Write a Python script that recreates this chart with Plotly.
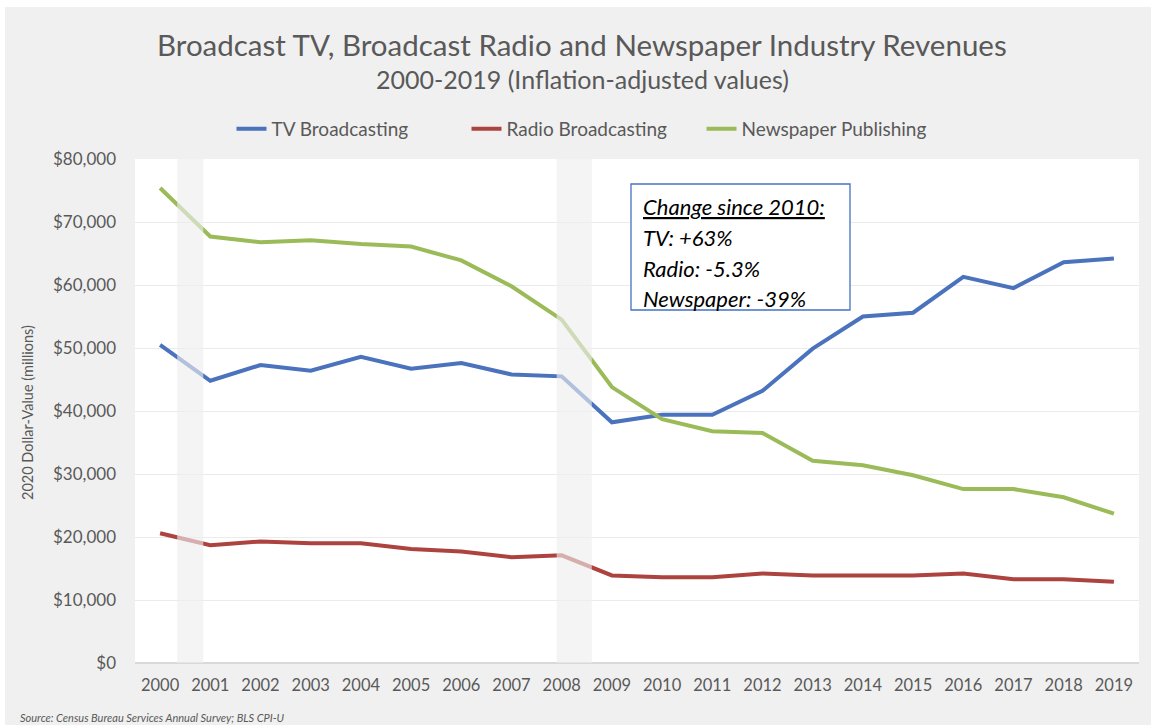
import plotly.graph_objects as go

years = list(range(2000, 2020))
tv = [50500, 44800, 47300, 46400, 48600, 46700, 47600, 45800, 45500, 38200,
      39400, 39400, 43200, 49900, 55000, 55600, 61300, 59500, 63600, 64200]
radio = [20600, 18700, 19300, 19000, 19000, 18100, 17700, 16800, 17100, 13900,
         13600, 13600, 14200, 13900, 13900, 13900, 14200, 13300, 13300, 12900]
news = [75400, 67700, 66800, 67100, 66500, 66100, 63900, 59800, 54500, 43800,
        38700, 36800, 36500, 32100, 31400, 29800, 27600, 27600, 26300, 23700]
series_names = ["TV Broadcasting", "Radio Broadcasting", "Newspaper Publishing"]
series_colors = ["#4a72bd", "#ad433e", "#9bbb59"]
recessions = [(2000.34, 2000.86), (2007.9, 2008.6)]
box_lines = ["<u>Change since 2010:</u>", "TV: +63%", "Radio: -5.3%", "Newspaper: -39%"]

FONT = "Lato"
GRAY = "#595959"
W, H = 1151, 725
L, R, T, B = 135, 12, 159, 62
PW, PH = W - L - R, H - T - B


def px(x):
    return (x - L) / PW


def py(y):
    return (H - B - y) / PH


fig = go.Figure()
for name, vals, col in zip(series_names, [tv, radio, news], series_colors):
    fig.add_trace(go.Scatter(x=years, y=vals, name=name, mode="lines",
                             line=dict(color=col, width=4)))

shapes = []
for x0, x1 in recessions:
    shapes.append(dict(type="rect", xref="x", yref="paper", x0=x0, x1=x1, y0=0, y1=1,
                       fillcolor="#eeeeee", opacity=0.63, line=dict(width=0), layer="above"))
# annotation box
shapes.append(dict(type="rect", xref="paper", yref="paper", x0=px(631), x1=px(850),
                   y0=py(310), y1=py(184), fillcolor="white",
                   line=dict(color="#4472c4", width=1.3), layer="above"))
# white outer strips
shapes.append(dict(type="rect", xref="paper", yref="paper", x0=px(0), x1=px(W),
                   y0=py(7), y1=py(-2), fillcolor="white", line=dict(width=0), layer="below"))
shapes.append(dict(type="rect", xref="paper", yref="paper", x0=px(-2), x1=px(5),
                   y0=py(H + 2), y1=py(0), fillcolor="white", line=dict(width=0), layer="below"))

annotations = [
    dict(text="Broadcast TV, Broadcast Radio and Newspaper Industry Revenues",
         xref="paper", yref="paper", x=px(582), y=py(45), showarrow=False,
         xanchor="center", yanchor="middle", font=dict(family=FONT, size=29.5, color=GRAY)),
    dict(text="2000-2019 (Inflation-adjusted values)",
         xref="paper", yref="paper", x=px(582), y=py(79), showarrow=False,
         xanchor="center", yanchor="middle", font=dict(family=FONT, size=25, color=GRAY)),
    dict(text="2020 Dollar-Value (millions)", textangle=-90,
         xref="paper", yref="paper", x=px(27), y=py(413), showarrow=False,
         xanchor="center", yanchor="middle", font=dict(family=FONT, size=14.5, color=GRAY)),
    dict(text="<i>Source: Census Bureau Services Annual Survey; BLS CPI-U</i>",
         xref="paper", yref="paper", x=px(18), y=py(717), showarrow=False,
         xanchor="left", yanchor="middle", font=dict(family=FONT, size=11, color=GRAY)),
]
for i, (t, yy) in enumerate(zip(box_lines, [206, 237, 268, 298])):
    annotations.append(dict(text="<i>" + t + "</i>", xref="paper", yref="paper",
                            x=px(641), y=py(yy), showarrow=False, xanchor="left",
                            yanchor="middle", font=dict(family=FONT, size=22, color="black")))

fig.update_layout(
    width=W, height=H,
    margin=dict(l=L, r=R, t=T, b=B),
    paper_bgcolor="#f0f0f0", plot_bgcolor="white",
    font=dict(family=FONT, color=GRAY),
    showlegend=True,
    legend=dict(orientation="h", x=px(584), xanchor="center", y=py(129), yanchor="middle",
                font=dict(family=FONT, size=19, color=GRAY), bgcolor="rgba(0,0,0,0)",
                itemwidth=30, tracegroupgap=0, entrywidth=190, entrywidthmode="pixels"),
    shapes=shapes, annotations=annotations,
    xaxis=dict(range=[1999.5, 2019.5], tickvals=years, ticktext=[str(y) for y in years],
               showgrid=False, zeroline=False, showline=False, ticks="",
               tickfont=dict(family=FONT, size=16.5, color=GRAY), ticklabelstandoff=10,
               fixedrange=True),
    yaxis=dict(range=[0, 80000], dtick=10000, tickprefix="$", tickformat=",d",
               showgrid=True, gridcolor="#ebebeb", gridwidth=1,
               zeroline=True, zerolinecolor="#d9d9d9", zerolinewidth=1.5,
               showline=False, ticks="",
               tickfont=dict(family=FONT, size=17, color=GRAY), ticklabelstandoff=18,
               fixedrange=True),
)

fig.write_html("out.html")
